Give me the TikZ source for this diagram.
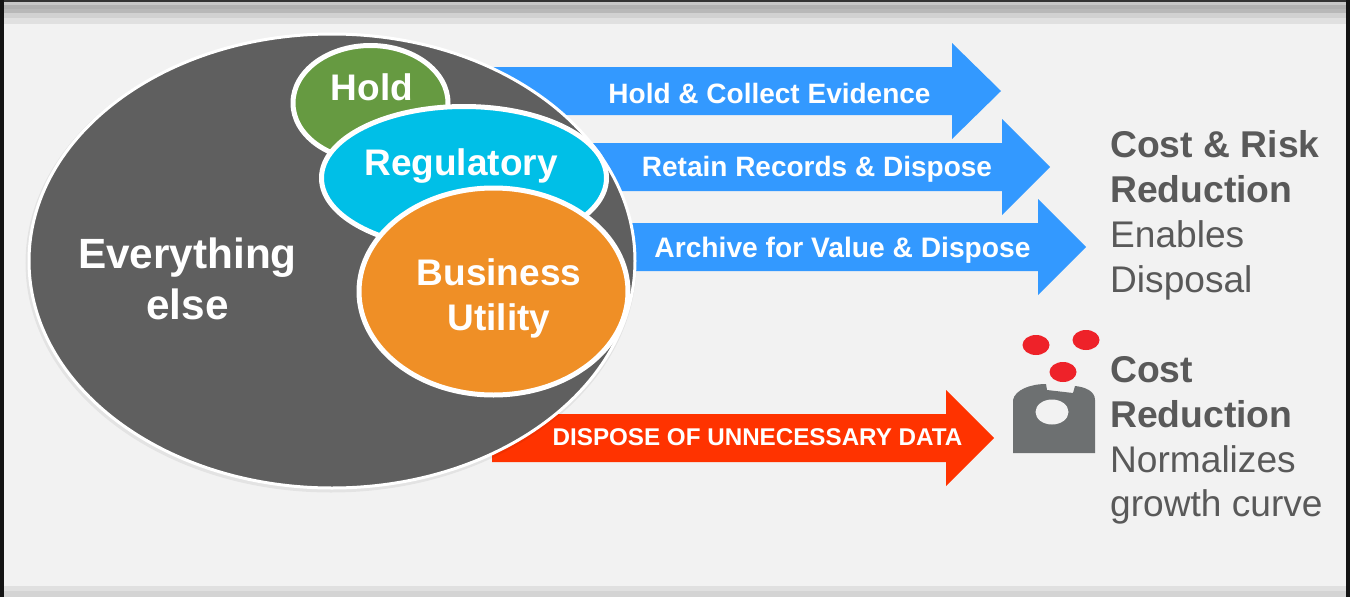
\documentclass[tikz,border=0pt]{standalone}
\usepackage{fontspec}
\setmainfont{Liberation Sans}
\definecolor{pagebg}{HTML}{F2F2F2}
\definecolor{bluearrow}{HTML}{3399FF}
\definecolor{redarrow}{HTML}{FF3300}
\definecolor{bigdark}{HTML}{5F5F5F}
\definecolor{holdgreen}{HTML}{669A41}
\definecolor{regblue}{HTML}{00BFE7}
\definecolor{busorange}{HTML}{EF8F26}
\definecolor{sidetext}{HTML}{595959}
\definecolor{icongrey}{HTML}{6D7071}
\definecolor{iconred}{HTML}{EE2229}
\newcommand{\fs}[1]{\fontsize{#1}{#1}\selectfont}
\tikzset{
  blob/.style={draw=white,line width=5pt},
  arrowlabel/.style={text=white,font=\bfseries\fs{28},anchor=base,inner sep=0pt},
  bloblabel/.style={text=white,font=\bfseries,align=center,inner sep=0pt,anchor=base},
  sidebold/.style={text=sidetext,font=\bfseries\fs{37.3},anchor=base west,inner sep=0pt},
  sideplain/.style={text=sidetext,font=\fs{37.1},anchor=base west,inner sep=0pt},
}
\begin{document}
\begin{tikzpicture}[x=1pt,y=-1pt]
\useasboundingbox (0,0) rectangle (1350,597);
% frame
\fill[black!92] (0,0) rectangle (1350,597);
\fill[pagebg] (4,0) rectangle (1346,597);
\fill[black!80] (4,0) rectangle (1346,2);
\fill[black!22] (4,2) rectangle (1346,5);
\fill[black!31] (4,5) rectangle (1346,9);
\fill[black!28] (4,9) rectangle (1346,13);
\fill[black!18] (4,13) rectangle (1346,18);
\fill[black!12] (4,18) rectangle (1346,24);
\fill[black!12] (4,586) rectangle (1346,591);
\fill[black!17] (4,591) rectangle (1346,597);
% block arrows
\fill[bluearrow] (480,67) -- (952,67) -- (952,43) -- (1001,91) -- (952,139) -- (952,115) -- (480,115) -- cycle;
\fill[bluearrow] (580,143) -- (1002,143) -- (1002,119) -- (1050,167) -- (1002,215) -- (1002,191) -- (580,191) -- cycle;
\fill[bluearrow] (610,223) -- (1038,223) -- (1038,199) -- (1086,247) -- (1038,295) -- (1038,271) -- (610,271) -- cycle;
\fill[redarrow] (492,414) -- (946,414) -- (946,390) -- (994,438) -- (946,486) -- (946,462) -- (492,462) -- cycle;
% ellipses
\draw[black,opacity=0.06,line width=5pt] (331,263) ellipse [x radius=303,y radius=227];
\draw[blob,fill=bigdark,line width=3pt] (332,261) ellipse [x radius=303,y radius=227];
\draw[blob,fill=holdgreen] (370.5,103) ellipse [x radius=77.5,y radius=57.5];
\draw[blob,fill=regblue] (464,178) ellipse [x radius=142.5,y radius=71.5];
\draw[blob,fill=busorange] (493.5,291.5) ellipse [x radius=134.5,y radius=103.5];
% labels
\node[bloblabel,font=\bfseries\fs{42.3}] (everything) at (187.5,268) {Everything};
\node[bloblabel,font=\bfseries\fs{42.3}] (everything2) at (187.5,319) {else};
\node[bloblabel,font=\bfseries\fs{37}] (hold) at (372,100) {Hold};
\node[bloblabel,font=\bfseries\fs{37}] (regulatory) at (461,175) {Regulatory};
\node[bloblabel,font=\bfseries\fs{37}] (business) at (499,285) {Business};
\node[bloblabel,font=\bfseries\fs{37}] (utility) at (499,330) {Utility};
\node[arrowlabel] (a1) at (769.5,103) {Hold \& Collect Evidence};
\node[arrowlabel] (a2) at (817,176) {Retain Records \& Dispose};
\node[arrowlabel,font=\bfseries\fs{28.2}] (a3) at (842.5,257) {Archive for Value \& Dispose};
\node[arrowlabel,font=\bfseries\fs{24.2}] (a4) at (757.5,445) {DISPOSE OF UNNECESSARY DATA};
% icon
\fill[icongrey] (1013,453) -- (1013,400) .. controls (1015,390) and (1030,384) .. (1046,384) -- (1047,390) -- (1073,393) -- (1075,386) .. controls (1085,387) and (1095,391) .. (1095,400) -- (1095,453) -- cycle;
\fill[pagebg] (1052,412) ellipse [x radius=16.5,y radius=12.5];
\fill[iconred] (1036,345) ellipse [x radius=13.5,y radius=10];
\fill[iconred] (1086,340) ellipse [x radius=13.5,y radius=10];
\fill[iconred] (1063,372) ellipse [x radius=13.5,y radius=10];
% side text
\node[sidebold] (s1) at (1110,157) {Cost \& Risk};
\node[sidebold] (s2) at (1110,202) {Reduction};
\node[sideplain] (s3) at (1110,247) {Enables};
\node[sideplain] (s4) at (1110,292) {Disposal};
\node[sidebold] (s5) at (1110,382) {Cost};
\node[sidebold] (s6) at (1110,427) {Reduction};
\node[sideplain] (s7) at (1110,472) {Normalizes};
\node[sideplain] (s8) at (1110,516) {growth curve};
\end{tikzpicture}
\end{document}
